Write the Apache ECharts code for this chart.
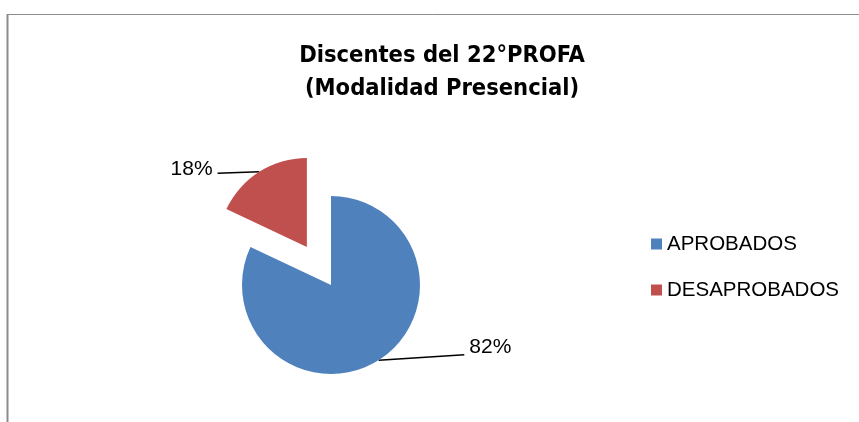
<!DOCTYPE html>
<html>
<head>
<meta charset="utf-8">
<script src="https://cdn.jsdelivr.net/npm/echarts@6/dist/echarts.min.js"></script>
<style>html,body{margin:0;padding:0;background:#fff}#c{width:859px;height:422px}</style>
</head>
<body>
<div id="c"></div>
<script>
const categories = ['APROBADOS', 'DESAPROBADOS'];
const values = [82, 18];
const colors = ['#4F81BD', '#C0504D'];
const titleLines = ['Discentes del 22°PROFA', '(Modalidad Presencial)'];

const chart = echarts.init(document.getElementById('c'), null, {renderer: 'canvas'});
const labelLines = [
  {length: 3, length2: 84},
  {length: 3, length2: 40}
];
// vertical shift of label text and of the leader line's end
const labelShift = [{dy: -15, lineDy: -8}, {dy: 0, lineDy: 4}];
chart.setOption({
  animation: false,
  backgroundColor: '#fff',
  title: {
    text: titleLines.join('\n'),
    left: 437,
    top: 34,
    textAlign: 'center',
    textStyle: {
      fontFamily: "'Liberation Sans Narrow', 'Arial Narrow', 'DejaVu Sans Condensed', sans-serif",
      fontWeight: 'bold',
      fontSize: 23.5,
      lineHeight: 33,
      color: '#000'
    }
  },
  legend: {
    orient: 'vertical',
    left: 646,
    top: 227,
    itemWidth: 11,
    itemHeight: 11,
    itemGap: 22,
    icon: 'rect',
    selectedMode: false,
    textStyle: {fontFamily: 'Liberation Sans', fontSize: 20.5, lineHeight: 24, color: '#000', padding: [0,0,0,0]},
    data: categories
  },
  graphic: [
    {type: 'line', shape: {x1: 7, y1: 14.5, x2: 900, y2: 14.5}, style: {stroke: '#8c8c8c', lineWidth: 1}},
    {type: 'line', shape: {x1: 7.5, y1: 14, x2: 7.5, y2: 500}, style: {stroke: '#8c8c8c', lineWidth: 2}}
  ],
  series: [{
    type: 'pie',
    center: [331, 285],
    radius: 89,
    startAngle: 90,
    clockwise: true,
    selectedMode: 'single',
    selectedOffset: 45,
    avoidLabelOverlap: false,
    emphasis: {disabled: true},
    label: {
      show: true,
      position: 'outside',
      formatter: '{d}%',
      fontFamily: 'Liberation Sans',
      fontSize: 21,
      color: '#000',
      distanceToLabelLine: 5
    },
    labelLayout: function (p) {
      const s = labelShift[p.dataIndex];
      const pts = p.labelLinePoints;
      if (!pts) return {dy: s.dy};
      const p0 = pts[0];
      const p2 = pts[pts.length - 1];
      return {
        dy: s.dy,
        labelLinePoints: [[p0[0], p0[1]], [p0[0], p0[1]], [p2[0], p2[1] + s.lineDy]]
      };
    },
    labelLine: {show: true, lineStyle: {color: '#000', width: 1.5}},
    data: categories.map((n, i) => ({
      name: n,
      value: values[i],
      selected: i === 1,
      itemStyle: {color: colors[i]},
      labelLine: labelLines[i]
    }))
  }]
});
</script>
</body>
</html>
